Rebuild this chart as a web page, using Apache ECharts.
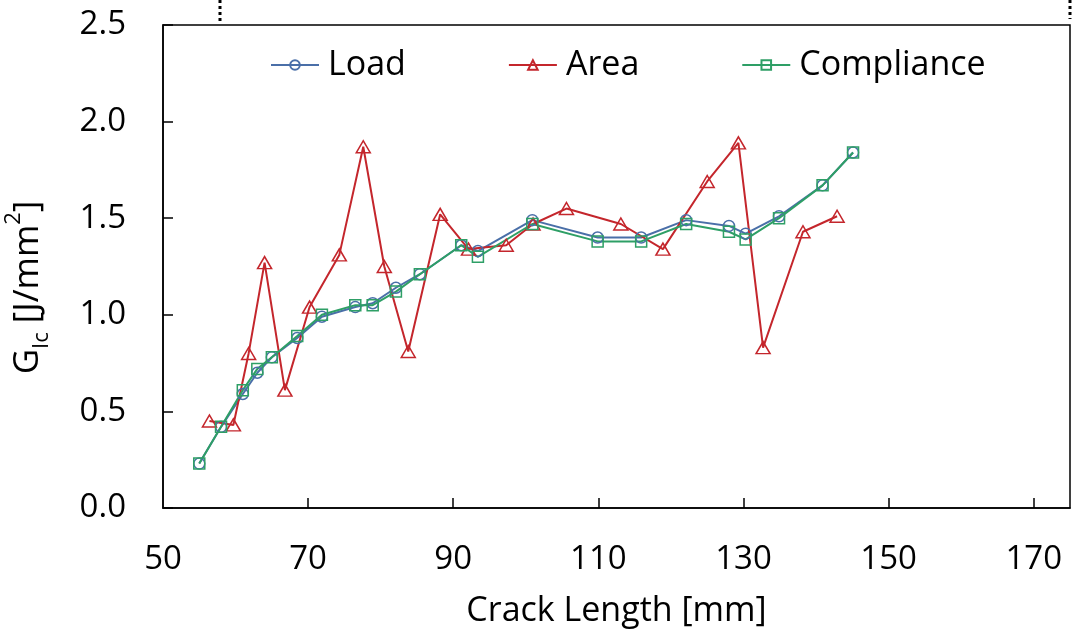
<!DOCTYPE html>
<html>
<head>
<meta charset="utf-8">
<script src="https://cdn.jsdelivr.net/npm/echarts@6/dist/echarts.min.js"></script>
<style>
html,body{margin:0;padding:0;background:#fff;}
#chart{width:1077px;height:637px;}
</style>
</head>
<body>
<div id="chart"></div>
<script>
// ---- data ----
const loadX = [55.0, 58.0, 61.0, 63.0, 65.0, 68.5, 71.9, 76.5, 78.9, 82.1, 85.4, 91.1, 93.4, 100.9, 109.9, 115.9, 122.1, 128.0, 130.3, 134.9, 140.9, 145.1];
const loadY = [0.23, 0.42, 0.59, 0.70, 0.78, 0.88, 0.99, 1.04, 1.06, 1.14, 1.21, 1.36, 1.33, 1.49, 1.40, 1.40, 1.49, 1.46, 1.42, 1.51, 1.67, 1.84];
const complianceX = [55.0, 58.0, 61.0, 63.0, 65.0, 68.5, 71.9, 76.5, 78.9, 82.1, 85.4, 91.1, 93.4, 100.9, 109.9, 115.9, 122.1, 128.0, 130.3, 134.9, 140.9, 145.1];
const complianceY = [0.23, 0.42, 0.61, 0.72, 0.78, 0.89, 1.00, 1.05, 1.05, 1.12, 1.21, 1.36, 1.30, 1.47, 1.38, 1.38, 1.47, 1.43, 1.39, 1.50, 1.67, 1.84];
const areaX = [56.4, 59.7, 61.8, 64.0, 66.8, 70.2, 74.3, 77.6, 80.5, 83.8, 88.2, 92.1, 97.3, 101.0, 105.6, 113.1, 118.9, 125.0, 129.3, 132.7, 138.2, 142.9];
const areaY = [0.45, 0.43, 0.80, 1.27, 0.61, 1.04, 1.31, 1.87, 1.25, 0.81, 1.52, 1.34, 1.36, 1.47, 1.55, 1.47, 1.34, 1.69, 1.89, 0.83, 1.43, 1.51];
const seriesNames = ['Load', 'Area', 'Compliance'];
const xTickLabels = [50, 70, 90, 110, 130, 150, 170];
const xTickMarks = [70, 90, 110, 130, 150, 170];

const pairs = (xs, ys) => xs.map((x, i) => [x, ys[i]]);

const FONT = '"Open Sans", sans-serif';
const BLUE = '#4A6FA8';
const RED = '#C4262C';
const GREEN = '#2E9F66';

const chart = echarts.init(document.getElementById('chart'), null, {renderer: 'canvas'});
chart.setOption({
  animation: false,
  backgroundColor: '#fff',
  textStyle: {fontFamily: FONT},
  grid: {left: 163, right: 7, top: 25, bottom: 129, containLabel: false, outerBoundsMode: 'none',
         show: true, borderColor: '#000', borderWidth: 1.5, backgroundColor: 'transparent'},
  legend: {
    left: 265, top: 43,
    itemWidth: 48, itemHeight: 12, itemGap: 102,
    textStyle: {fontFamily: FONT, fontSize: 34, color: '#000', padding: [0, 0, 0, 4]},
    data: seriesNames
  },
  xAxis: {
    type: 'value', min: 50, max: 175,
    name: 'Crack Length [mm]', nameLocation: 'middle', nameGap: 86,
    nameTextStyle: {fontFamily: FONT, fontSize: 34, color: '#000'},
    axisLine: {show: true, lineStyle: {color: '#000', width: 1.5}},
    axisTick: {show: true, inside: true, length: 10, lineStyle: {color: '#000', width: 1.5}, customValues: xTickMarks},
    axisLabel: {fontFamily: FONT, fontSize: 33, color: '#000', margin: 35, customValues: xTickLabels},
    splitLine: {show: false}
  },
  yAxis: {
    type: 'value', min: 0, max: 2.5, interval: 0.5,
    name: '{g|G}{s|Ic}{g| [J/mm}{p|2}{g|]}',
    nameLocation: 'middle', nameGap: 110,
    nameTextStyle: {
      color: '#000', padding: [0, 0, 0, -42],
      rich: {
        g: {fontFamily: FONT, fontSize: 35, color: '#000', verticalAlign: 'middle', lineHeight: 44},
        s: {fontFamily: FONT, fontSize: 22, color: '#000', verticalAlign: 'bottom', lineHeight: 32},
        p: {fontFamily: FONT, fontSize: 22, color: '#000', verticalAlign: 'top', lineHeight: 50}
      }
    },
    axisLine: {show: true, lineStyle: {color: '#000', width: 1.5}},
    axisTick: {show: true, inside: true, length: 10, lineStyle: {color: '#000', width: 1.5}},
    axisLabel: {fontFamily: FONT, fontSize: 33, color: '#000', margin: 37, formatter: v => v.toFixed(1)},
    splitLine: {show: false}
  },
  series: [
    {
      name: seriesNames[0], type: 'line', data: pairs(loadX, loadY),
      symbol: 'circle', symbolSize: 11,
      lineStyle: {color: BLUE, width: 2},
      itemStyle: {color: 'rgba(255,255,255,0)', borderColor: BLUE, borderWidth: 1.5}
    },
    {
      name: seriesNames[1], type: 'line', data: pairs(areaX, areaY),
      symbol: 'triangle', symbolSize: [14, 12],
      lineStyle: {color: RED, width: 2},
      itemStyle: {color: 'rgba(255,255,255,0)', borderColor: RED, borderWidth: 1.5}
    },
    {
      name: seriesNames[2], type: 'line', data: pairs(complianceX, complianceY),
      symbol: 'rect', symbolSize: 11,
      lineStyle: {color: GREEN, width: 2},
      itemStyle: {color: 'rgba(255,255,255,0)', borderColor: GREEN, borderWidth: 1.5}
    }
  ],
  graphic: [
    {type: 'line', shape: {x1: 220, y1: 0, x2: 220, y2: 24}, style: {stroke: '#000', lineWidth: 3, lineDash: [3, 3]}},
    {type: 'line', shape: {x1: 1070, y1: 0, x2: 1070, y2: 19}, style: {stroke: '#000', lineWidth: 3, lineDash: [3, 3]}}
  ]
});
</script>
</body>
</html>
